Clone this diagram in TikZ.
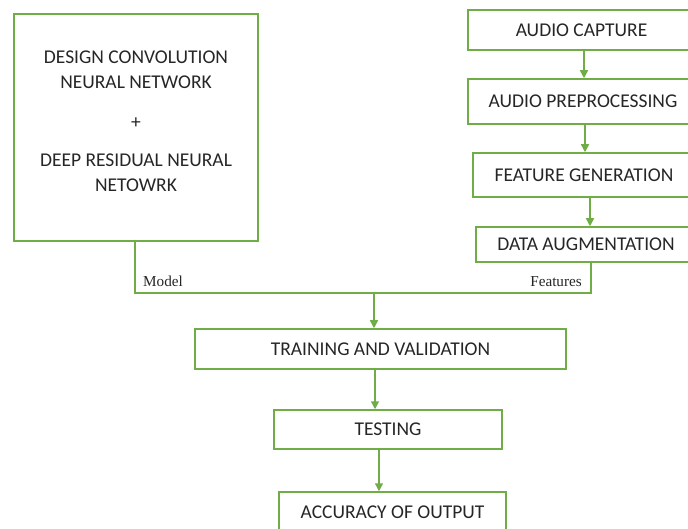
\documentclass[tikz,border=0pt]{standalone}
\usepackage{fontspec}
\setmainfont{Carlito}
\newfontfamily\labelfont{Liberation Serif}
\usetikzlibrary{arrows.meta}
\definecolor{boxgreen}{RGB}{112,173,71}

\begin{document}
\begin{tikzpicture}[x=1pt,y=-1pt,
  box/.style={draw=boxgreen,line width=1.5pt,inner sep=0pt,text=black!85,
    font=\fontsize{19.5}{25}\selectfont,align=center},
  link/.style={draw=boxgreen,line width=1.5pt},
  arrow/.style={link,-{Triangle[length=8pt,width=8pt]}},
  tag/.style={font=\labelfont\fontsize{15.2}{16}\selectfont,text=black!85,inner sep=0pt}]
\useasboundingbox (0,0) rectangle (688,529);
\clip (0,0) rectangle (688,529);
% model side
\node[box,minimum width=244,minimum height=227] (cnn) at (136,127.5)
  {DESIGN CONVOLUTION\\NEURAL NETWORK\\[15pt]+\\[13pt]DEEP RESIDUAL NEURAL\\NETOWRK\\[-12pt]\mbox{}};
% audio side
\node[box,minimum width=227,minimum height=40] (capture) at (581.5,30) {AUDIO CAPTURE};
\node[box,minimum width=230,minimum height=45] (prep) at (583,101.5) {AUDIO PREPROCESSING};
\node[box,minimum width=222,minimum height=44] (feat) at (584,175) {FEATURE GENERATION};
\node[box,minimum width=220,minimum height=35] (aug) at (586,244.5) {DATA AUGMENTATION};
% training chain
\node[box,minimum width=371,minimum height=40] (train) at (380.5,349) {TRAINING AND VALIDATION};
\node[box,minimum width=228,minimum height=39] (test) at (388,429.5) {TESTING};
\node[box,minimum width=227,minimum height=40] (acc) at (392.5,512) {ACCURACY OF OUTPUT};
\coordinate (merge) at (374,293);
\draw[arrow] ([xshift=2.5pt]capture.south) -- ([xshift=2.5pt]capture.south |- prep.north);
\draw[arrow] ([xshift=2pt]prep.south) -- ([xshift=2pt]prep.south |- feat.north);
\draw[arrow] ([xshift=6pt]feat.south) -- ([xshift=6pt]feat.south |- aug.north);
\draw[link] ([xshift=-1pt]cnn.south) |- (merge) -| ([xshift=5pt]aug.south);
\draw[arrow] (merge) -- (merge |- train.north);
\draw[arrow] ([xshift=-5.5pt]train.south) -- ([xshift=-5.5pt]train.south |- test.north);
\draw[arrow] ([xshift=-9pt]test.south) -- ([xshift=-9pt]test.south |- acc.north);
\node[tag,anchor=base west] (model) at (143,286.5) {Model};
\node[tag,anchor=base east] (features) at (582,286.5) {Features};
\end{tikzpicture}
\end{document}
